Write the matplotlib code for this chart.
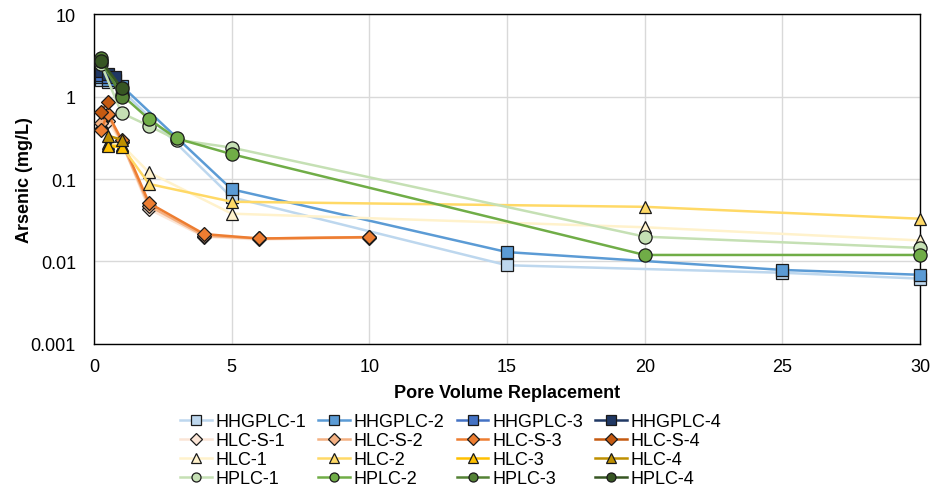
import matplotlib
matplotlib.use("Agg")
import matplotlib.pyplot as plt
from matplotlib.ticker import FixedLocator, FixedFormatter

plt.rcParams['font.family'] = ['Liberation Sans', 'DejaVu Sans']

# ---- data ----
hhgplc1_x = [0.25, 0.5, 1, 5, 15, 25, 30]
hhgplc1_y = [1.6, 1.5, 1.2, 0.06, 0.009, 0.0073, 0.0062]
hhgplc2_x = [0.25, 0.5, 1, 5, 15, 25, 30]
hhgplc2_y = [1.7, 1.6, 1.35, 0.075, 0.013, 0.0079, 0.0069]
hhgplc3_x = [0.25, 0.5, 0.75]
hhgplc3_y = [1.8, 1.7, 1.6]
hhgplc4_x = [0.25, 0.5, 0.75]
hhgplc4_y = [2.05, 1.9, 1.7]

hlcs1_x = [0.25, 0.5, 1, 2, 4, 6, 10]
hlcs1_y = [0.4, 0.5, 0.28, 0.043, 0.020, 0.0185, 0.0195]
hlcs2_x = [0.25, 0.5, 1, 2, 4, 6, 10]
hlcs2_y = [0.48, 0.6, 0.28, 0.047, 0.0205, 0.019, 0.0198]
hlcs3_x = [0.25, 0.5, 1, 2, 4, 6, 10]
hlcs3_y = [0.39, 0.62, 0.3, 0.051, 0.0215, 0.019, 0.0197]
hlcs4_x = [0.25, 0.5]
hlcs4_y = [0.65, 0.86]

hlc1_x = [0.5, 1, 2, 5, 20, 30]
hlc1_y = [0.27, 0.26, 0.12, 0.038, 0.026, 0.018]
hlc2_x = [0.5, 1, 2, 5, 20, 30]
hlc2_y = [0.26, 0.25, 0.087, 0.053, 0.046, 0.033]
hlc3_x = [0.5, 1]
hlc3_y = [0.25, 0.245]
hlc4_x = [0.5, 1]
hlc4_y = [0.335, 0.30]

hplc1_x = [0.25, 1, 2, 3, 5, 20, 30]
hplc1_y = [2.5, 0.63, 0.44, 0.30, 0.24, 0.020, 0.0146]
hplc2_x = [0.25, 1, 2, 3, 5, 20, 30]
hplc2_y = [2.7, 1.05, 0.53, 0.31, 0.20, 0.012, 0.012]
hplc3_x = [0.25, 1]
hplc3_y = [2.9, 0.98]
hplc4_x = [0.25, 1]
hplc4_y = [2.7, 1.27]

x_ticks = [0, 5, 10, 15, 20, 25, 30]
y_ticks = [0.001, 0.01, 0.1, 1, 10]
y_tick_labels = ['0.001', '0.01', '0.1', '1', '10']

series = [
    ("HHGPLC-1", hhgplc1_x, hhgplc1_y, 's', '#BDD7EE'),
    ("HHGPLC-2", hhgplc2_x, hhgplc2_y, 's', '#5B9BD5'),
    ("HHGPLC-3", hhgplc3_x, hhgplc3_y, 's', '#4472C4'),
    ("HHGPLC-4", hhgplc4_x, hhgplc4_y, 's', '#203864'),
    ("HLC-S-1", hlcs1_x, hlcs1_y, 'D', '#FBE5D6'),
    ("HLC-S-2", hlcs2_x, hlcs2_y, 'D', '#F4B183'),
    ("HLC-S-3", hlcs3_x, hlcs3_y, 'D', '#ED7D31'),
    ("HLC-S-4", hlcs4_x, hlcs4_y, 'D', '#C55A11'),
    ("HLC-1", hlc1_x, hlc1_y, '^', '#FFF2CC'),
    ("HLC-2", hlc2_x, hlc2_y, '^', '#FFD966'),
    ("HLC-3", hlc3_x, hlc3_y, '^', '#FFC000'),
    ("HLC-4", hlc4_x, hlc4_y, '^', '#BF9000'),
    ("HPLC-1", hplc1_x, hplc1_y, 'o', '#C5E0B4'),
    ("HPLC-2", hplc2_x, hplc2_y, 'o', '#70AD47'),
    ("HPLC-3", hplc3_x, hplc3_y, 'o', '#548235'),
    ("HPLC-4", hplc4_x, hplc4_y, 'o', '#375623'),
]

fig = plt.figure(figsize=(9.33, 4.89), dpi=100)
ax = fig.add_axes([0.1008, 0.2945, 0.8853, 0.6748])

msize = {'s': 9, 'D': 7, '^': 9, 'o': 9.5}
for name, xs, ys, m, c in series:
    ax.plot(xs, ys, color=c, lw=1.8, marker=m, ms=msize[m],
            mfc=c, mec='#1a1a1a', mew=0.9, label=name, zorder=3,
            clip_on=False)

ax.set_yscale('log')
ax.set_xlim(0, 30)
ax.set_ylim(0.001, 10)
ax.xaxis.set_major_locator(FixedLocator(x_ticks))
ax.yaxis.set_major_locator(FixedLocator(y_ticks))
ax.yaxis.set_major_formatter(FixedFormatter(y_tick_labels))
ax.yaxis.set_minor_locator(FixedLocator([]))
ax.tick_params(axis='both', which='both', length=0, labelsize=13)
ax.tick_params(axis='y', pad=13)
ax.tick_params(axis='x', pad=10)
ax.grid(True, color='#d9d9d9', lw=1.0, zorder=0)
ax.set_axisbelow(True)
for s in ax.spines.values():
    s.set_color('black')
    s.set_linewidth(1.0)
    s.set_zorder(2.5)

ax.set_xlabel('Pore Volume Replacement', fontsize=13, fontweight='bold')
ax.set_ylabel('Arsenic (mg/L)', fontsize=13, fontweight='bold')
ax.xaxis.set_label_coords(0.5, -0.121)
ax.yaxis.set_label_coords(-0.074, 0.5)

# legend ordered row-wise with 4 columns
handles, labels = ax.get_legend_handles_labels()
order = []
for col in range(4):
    for row in range(4):
        order.append(row * 4 + col)
leg = fig.legend([handles[i] for i in order], [labels[i] for i in order],
                 ncol=4, loc='upper left', bbox_to_anchor=(0.193, 0.1535),
                 frameon=False, fontsize=13, handlelength=1.77,
                 handletextpad=0.2, columnspacing=0.66, labelspacing=0.12,
                 borderaxespad=0, borderpad=0)
for h in leg.legend_handles:
    h.set_markersize(6.5)

fig.savefig('out.png', dpi=100)
